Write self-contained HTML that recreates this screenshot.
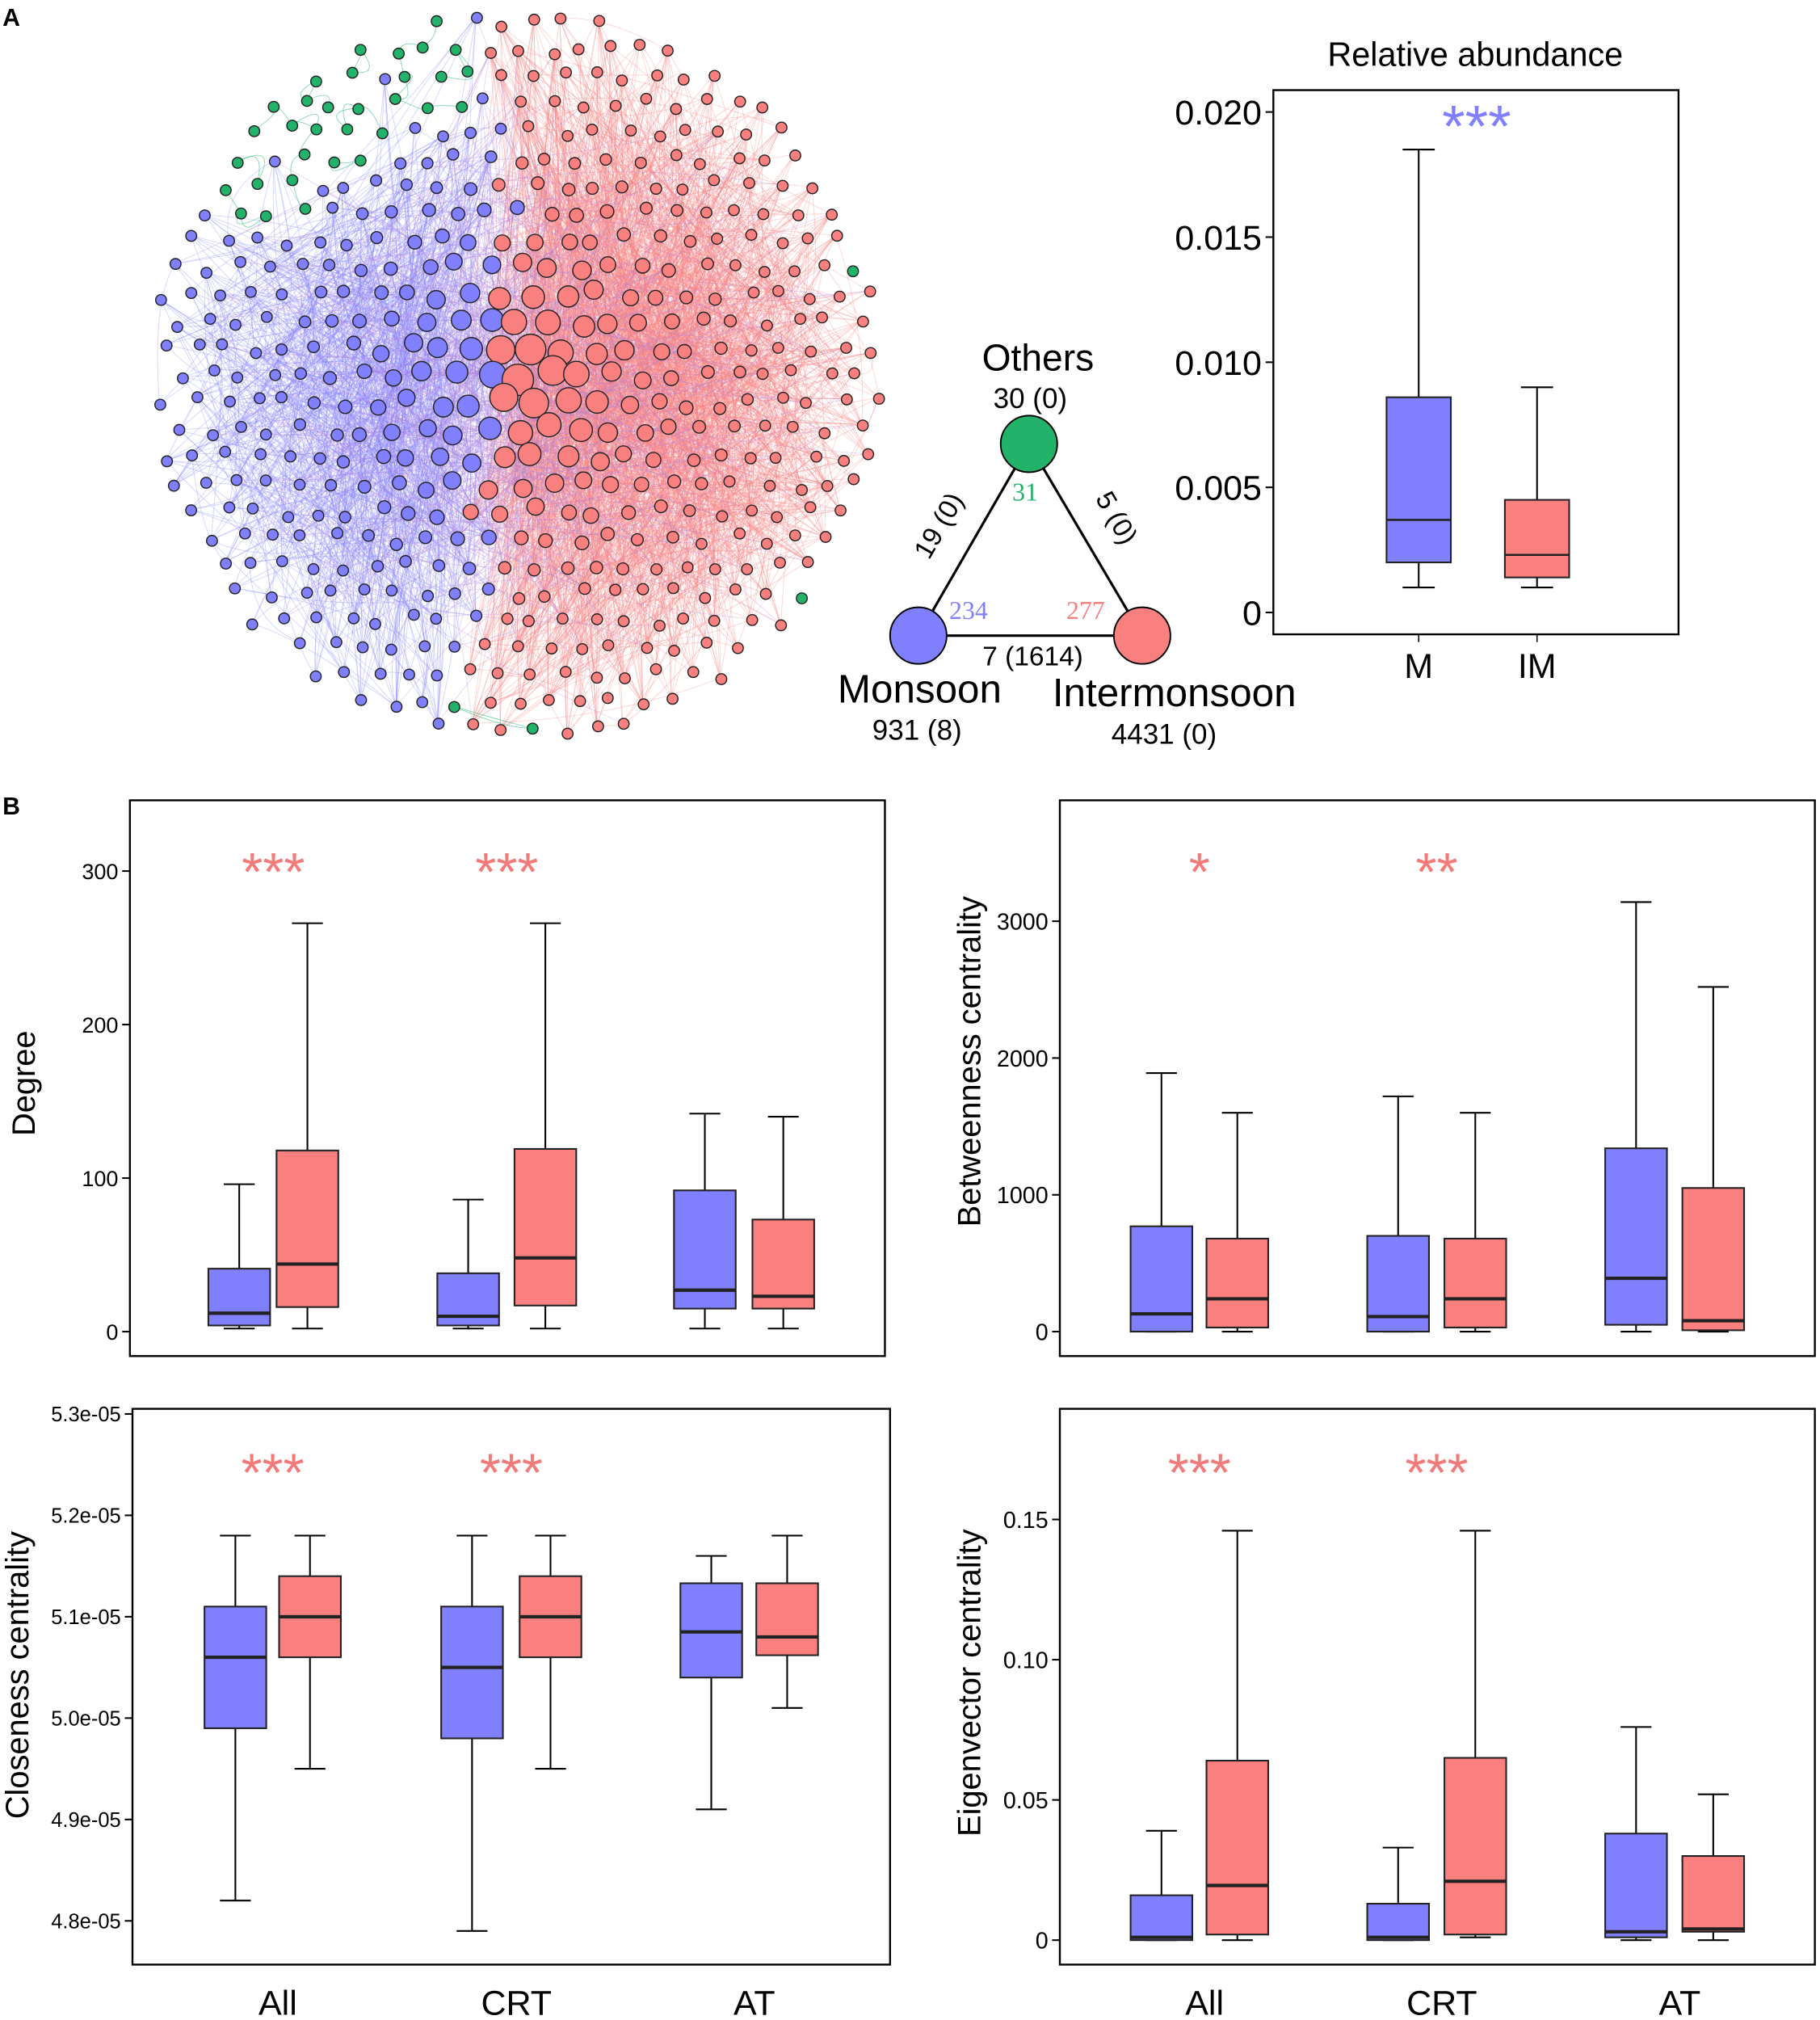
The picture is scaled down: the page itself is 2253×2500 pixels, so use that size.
<!DOCTYPE html>
<html><head><meta charset="utf-8">
<style>
html,body{margin:0;padding:0;background:#fff;}
svg{display:block;font-family:"Liberation Sans",Arial,sans-serif;}
</style></head>
<body>
<svg id="fig" width="2253" height="2500" viewBox="0 0 1415 1570" xmlns="http://www.w3.org/2000/svg">
<text x="2" y="20" font-size="19" font-weight="bold">A</text>
<text x="2" y="633" font-size="19" font-weight="bold">B</text>
<g id="network"></g>
<g id="tri">
<line x1="800" y1="345" x2="714" y2="494" stroke="#000" stroke-width="2"/>
<line x1="800" y1="345" x2="888" y2="494" stroke="#000" stroke-width="2"/>
<line x1="714" y1="494" x2="888" y2="494" stroke="#000" stroke-width="2"/>
<circle cx="800" cy="345" r="22" fill="#22b26a" stroke="#000" stroke-width="1.2"/>
<circle cx="714" cy="494" r="22" fill="#8080ff" stroke="#000" stroke-width="1.2"/>
<circle cx="888" cy="494" r="22" fill="#fa8080" stroke="#000" stroke-width="1.2"/>
<text x="807" y="288" font-size="29" text-anchor="middle">Others</text>
<text x="801" y="317" font-size="22" text-anchor="middle">30 (0)</text>
<text x="797" y="389" font-size="20" fill="#22b26a" text-anchor="middle" font-family="Liberation Serif,serif">31</text>
<text x="753" y="481" font-size="20" fill="#8080ff" text-anchor="middle" font-family="Liberation Serif,serif">234</text>
<text x="844" y="481" font-size="20" fill="#fa8080" text-anchor="middle" font-family="Liberation Serif,serif">277</text>
<text transform="translate(736,412) rotate(-60)" font-size="21" text-anchor="middle">19 (0)</text>
<text transform="translate(862,406) rotate(60)" font-size="21" text-anchor="middle">5 (0)</text>
<text x="803" y="517" font-size="21" text-anchor="middle">7 (1614)</text>
<text x="715" y="546" font-size="31" text-anchor="middle">Monsoon</text>
<text x="713" y="575" font-size="22" text-anchor="middle">931 (8)</text>
<text x="913" y="549" font-size="31" text-anchor="middle">Intermonsoon</text>
<text x="905" y="578" font-size="22" text-anchor="middle">4431 (0)</text>
</g>
<g id="charts"></g>
</svg>
<script>
// ---------- data ----------
const groupLabels = ["M","IM"];
const categories = ["All","CRT","AT"];
// [low, q1, median, q3, high]
const relAbundM = [0.001,0.002,0.0037,0.0086,0.0185];
const relAbundIM = [0.001,0.0014,0.0023,0.0045,0.009];
const relTicks = [0,0.005,0.010,0.015,0.020];
const relTickLabels = ["0","0.005","0.010","0.015","0.020"];

const degreeM = [[2,4,12,41,96],[2,4,10,38,86],[2,15,27,92,142]];
const degreeIM = [[2,16,44,118,266],[2,17,48,119,266],[2,15,23,73,140]];
const degreeTicks = [0,100,200,300];
const degreeStars = ["***","***",""];

const betwM = [[0,0,130,770,1890],[0,0,110,700,1720],[0,50,390,1340,3140]];
const betwIM = [[0,30,240,680,1600],[0,30,240,680,1600],[0,10,80,1050,2520]];
const betwTicks = [0,1000,2000,3000];
const betwStars = ["*","**",""];

const closeM = [[4.82,4.99,5.06,5.11,5.18],[4.79,4.98,5.05,5.11,5.18],[4.91,5.04,5.085,5.133,5.16]];
const closeIM = [[4.95,5.06,5.10,5.14,5.18],[4.95,5.06,5.10,5.14,5.18],[5.01,5.062,5.08,5.133,5.18]];
const closeTicks = [4.8,4.9,5.0,5.1,5.2,5.3];
const closeTickLabels = ["4.8e-05","4.9e-05","5.0e-05","5.1e-05","5.2e-05","5.3e-05"];
const closeStars = ["***","***",""];

const eigM = [[0,0,0.001,0.016,0.039],[0,0,0.001,0.013,0.033],[0,0.001,0.003,0.038,0.076]];
const eigIM = [[0,0.002,0.0195,0.064,0.146],[0.001,0.002,0.021,0.065,0.146],[0,0.003,0.004,0.030,0.052]];
const eigTicks = [0,0.05,0.10,0.15];
const eigTickLabels = ["0","0.05","0.10","0.15"];
const eigStars = ["***","***",""];

const BLUE="#8080ff", RED="#fa8080", STAR="#f47a7a", GREEN="#22b26a";
const NS="http://www.w3.org/2000/svg";
function el(tag, attrs, parent, txt){
  const e=document.createElementNS(NS,tag);
  for(const k in attrs) e.setAttribute(k,attrs[k]);
  if(txt!==undefined) e.textContent=txt;
  parent.appendChild(e); return e;
}
const charts=document.getElementById('charts');
function lin(d0,d1,r0,r1){return v=>r0+(v-d0)/(d1-d0)*(r1-r0);}
let opts_mw=2.6;

function drawBox(g, cx, w, s, y, color, name){
  const bg=el('g',{},g);
  
  
  el('line',{x1:cx,x2:cx,y1:y(s[0]),y2:y(s[1]),stroke:"#000","stroke-width":1.3},bg);
  el('line',{x1:cx,x2:cx,y1:y(s[3]),y2:y(s[4]),stroke:"#000","stroke-width":1.3},bg);
  el('line',{x1:cx-w/4,x2:cx+w/4,y1:y(s[0]),y2:y(s[0]),stroke:"#000","stroke-width":1.3},bg);
  el('line',{x1:cx-w/4,x2:cx+w/4,y1:y(s[4]),y2:y(s[4]),stroke:"#000","stroke-width":1.3},bg);
  el('rect',{x:cx-w/2,y:y(s[3]),width:w,height:Math.max(0.5,y(s[1])-y(s[3])),fill:color,stroke:"#222","stroke-width":1.3},bg);
  el('line',{x1:cx-w/2,x2:cx+w/2,y1:y(s[2]),y2:y(s[2]),stroke:"#222","stroke-width":opts_mw},bg);
}

function panel(opts){
  const g=el('g',{},charts);
  
  
  const fr=el('rect',{x:opts.x0,y:opts.y0,width:opts.x1-opts.x0,height:opts.y1-opts.y0,fill:"none",stroke:"#000","stroke-width":1.5},g);
  
  
  const y=lin(opts.t0,opts.t1,opts.p0,opts.p1);
  opts.ticks.forEach((t,i)=>{
    el('line',{x1:opts.x0-6,x2:opts.x0,y1:y(t),y2:y(t),stroke:"#000","stroke-width":1.3},g);
    const tl=el('text',{x:opts.x0-9,y:y(t)+opts.fs*0.36,"font-size":opts.fs,"text-anchor":"end"},g,opts.tickLabels?opts.tickLabels[i]:String(t));
    
    
  });
  if(opts.ylabel){
    const yl=el('text',{transform:`translate(${opts.ylx},${opts.yly}) rotate(-90)`,"font-size":opts.ylfs,"text-anchor":"middle"},g,opts.ylabel);
    
    
  }
  return {g,y};
}

// Relative abundance
(function(){
  opts_mw=1.6;
  const p=panel({name:"relative-abundance-chart",x0:990,x1:1305,y0:70,y1:493,t0:0,t1:0.02,p0:476,p1:87,ticks:relTicks,tickLabels:relTickLabels,fs:27});
  const xs=[1103,1195];
  [relAbundM,relAbundIM].forEach((s,i)=>drawBox(p.g,xs[i],50,s,p.y,i?RED:BLUE,"box-"+groupLabels[i]));
  groupLabels.forEach((l,i)=>{
    el('line',{x1:xs[i],x2:xs[i],y1:493,y2:499,stroke:"#000"},p.g);
    const t=el('text',{x:xs[i],y:527,"font-size":27,"text-anchor":"middle"},p.g,l);
    
    
  });
  const ti=el('text',{x:1147,y:51,"font-size":26,"text-anchor":"middle"},p.g,"Relative abundance");
  
  
  const st=el('text',{x:1148,y:114,"font-size":46,"text-anchor":"middle",fill:BLUE},p.g,"***");
  
  
  opts_mw=2.6;
})();

function groupPanel(o){
  const p=panel(o);
  categories.forEach((c,i)=>{
    drawBox(p.g,o.xm[i],48,o.m[i],p.y,BLUE,"box-"+c.toLowerCase()+"-m");
    drawBox(p.g,o.xi[i],48,o.im[i],p.y,RED,"box-"+c.toLowerCase()+"-im");
    if(o.stars[i]){
      const st=el('text',{x:(o.xm[i]+o.xi[i])/2,y:o.sy,"font-size":42,"text-anchor":"middle",fill:STAR},p.g,o.stars[i]);
      
      
    }
    if(o.xlab){
      const t=el('text',{x:(o.xm[i]+o.xi[i])/2+4,y:1566,"font-size":27,"text-anchor":"middle"},p.g,c);
      
      
    }
  });
}
groupPanel({name:"degree-chart",x0:101,x1:688,y0:622,y1:1054,t0:0,t1:300,p0:1035,p1:677,ticks:degreeTicks,fs:17,
  ylabel:"Degree",ylx:27,yly:842,ylfs:25,xm:[186,364,548],xi:[239,424,609],m:degreeM,im:degreeIM,stars:degreeStars,sy:692});
groupPanel({name:"betweenness-chart",x0:824,x1:1411,y0:622,y1:1054,t0:0,t1:3000,p0:1035,p1:716,ticks:betwTicks,fs:18,
  ylabel:"Betweenness centrality",ylx:762,yly:825,ylfs:25,xm:[903,1087,1272],xi:[962,1147,1332],m:betwM,im:betwIM,stars:betwStars,sy:692});
groupPanel({name:"closeness-chart",x0:103,x1:692,y0:1095,y1:1527,t0:4.8,t1:5.3,p0:1493,p1:1099,ticks:closeTicks,tickLabels:closeTickLabels,fs:16,
  ylabel:"Closeness centrality",ylx:22,yly:1302,ylfs:25,xm:[183,367,553],xi:[241,428,612],m:closeM,im:closeIM,stars:closeStars,sy:1159,xlab:true});
groupPanel({name:"eigenvector-chart",x0:824,x1:1411,y0:1095,y1:1527,t0:0,t1:0.15,p0:1508,p1:1181,ticks:eigTicks,tickLabels:eigTickLabels,fs:18,
  ylabel:"Eigenvector centrality",ylx:762,yly:1308,ylfs:25,xm:[903,1087,1272],xi:[962,1147,1332],m:eigM,im:eigIM,stars:eigStars,sy:1159,xlab:true});

// ---------- network (decorative) ----------
(function(){
  const g=document.getElementById('network');
  let seed=11; const rnd=()=>{seed=(seed*16807)%2147483647;return seed/2147483647;};
  const cx=403,cy=292,R=288, sp=24;
  const nodes=[];
  for(let row=-14;row<=14;row++){
    for(let col=-14;col<=14;col++){
      const x=cx+col*sp+(row%2?sp/2:0)+(rnd()-0.5)*9;
      const y=cy+row*sp*0.88+(rnd()-0.5)*9;
      const r=Math.hypot(x-cx,y-cy);
      if(r>R-4) continue;
      const ang=Math.atan2(y-cy,x-cx)*180/Math.PI;
      const bnd=385 - (y-cy)*0.06 + (rnd()-0.5)*30;
      let c = x<bnd ? BLUE : RED;
      if(r>R*0.72 && ang<-95 && ang>-150 && rnd()<0.75) c=GREEN;
      else if(r>R*0.9 && rnd()<0.04) c=GREEN;
      if(r>R*0.8 && c===BLUE && ang>-95 && ang<-40) c=RED;
      const t=Math.max(0,1-r/(R*0.7));
      const size = 4.2 + 7*t*t*(c===RED?1.15:0.95)+rnd()*1.5*t;
      nodes.push({x,y,c,size,r});
    }
  }
  const reds=nodes.filter(n=>n.c===RED), blues=nodes.filter(n=>n.c===BLUE), greens=nodes.filter(n=>n.c===GREEN);
  const eg=el('g',{"stroke-width":0.6,fill:"none"},g);
  function pick(arr,bias){
    for(let k=0;k<8;k++){const n=arr[Math.floor(rnd()*arr.length)]; if(rnd()<bias(n)) return n;}
    return arr[Math.floor(rnd()*arr.length)];
  }
  function edge(a,b,col,op){
    const mx=(a.x+b.x)/2+(rnd()-0.5)*50, my=(a.y+b.y)/2+(rnd()-0.5)*50;
    el('path',{d:`M${a.x|0},${a.y|0}Q${mx|0},${my|0} ${b.x|0},${b.y|0}`,stroke:col,"stroke-opacity":op},eg);
  }
  const central=n=>Math.max(0.05,1-n.r/R);
  for(let i=0;i<2300;i++){ const a=reds[Math.floor(rnd()*reds.length)], b=pick(reds,central); edge(a,b,RED,0.32); }
  for(let i=0;i<1000;i++){ const a=blues[Math.floor(rnd()*blues.length)], b=pick(blues,central); edge(a,b,BLUE,0.32); }
  for(let i=0;i<500;i++){ const a=pick(blues,central), b=pick(reds,central); edge(a,b,"#b07fd8",0.3); }
  for(let i=0;i<greens.length;i++){ const a=greens[i]; let best=null,bd=1e9; greens.forEach(o=>{const d=Math.hypot(o.x-a.x,o.y-a.y); if(o!==a&&d<bd){bd=d;best=o;}}); if(best&&bd<80) edge(a,best,"#3cbf80",0.6); }
  const ng=el('g',{stroke:"#222","stroke-width":0.9},g);
  nodes.forEach(n=>el('circle',{cx:n.x.toFixed(1),cy:n.y.toFixed(1),r:n.size.toFixed(1),fill:n.c},ng));
})();
</script>
</body></html>
